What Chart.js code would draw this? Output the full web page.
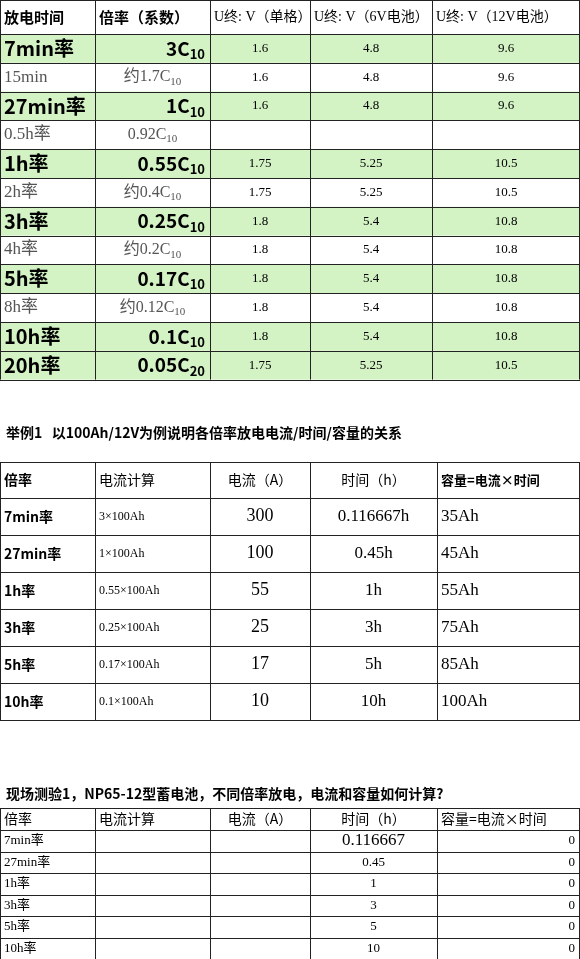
<!DOCTYPE html>
<html lang="zh">
<head>
<meta charset="UTF-8">
<title>倍率放电</title>
<style>
  body { margin: 0; background: #fff; }
  canvas { display: block; }
</style>
</head>
<body>
<canvas id="sheet" width="580" height="959"></canvas>
<script src="https://cdn.jsdelivr.net/npm/chart.js"></script>
<script>
// ---- table 1 data ("_" marks a subscript) ----
const rates1 = ['7min率','15min','27min率','0.5h率','1h率','2h率','3h率','4h率','5h率','8h率','10h率','20h率'];
const multipliers1 = ['3C_10','约1.7C_10','1C_10','0.92C_10','0.55C_10','约0.4C_10','0.25C_10','约0.2C_10','0.17C_10','约0.12C_10','0.1C_10','0.05C_20'];
const uCell = ['1.6','1.6','1.6','','1.75','1.75','1.8','1.8','1.8','1.8','1.8','1.75'];
const u6V = ['4.8','4.8','4.8','','5.25','5.25','5.4','5.4','5.4','5.4','5.4','5.25'];
const u12V = ['9.6','9.6','9.6','','10.5','10.5','10.8','10.8','10.8','10.8','10.8','10.5'];
const highlighted1 = [true,false,true,false,true,false,true,false,true,false,true,true];

// ---- table 2 data ----
const rates2 = ['7min率','27min率','1h率','3h率','5h率','10h率'];
const calc2 = ['3×100Ah','1×100Ah','0.55×100Ah','0.25×100Ah','0.17×100Ah','0.1×100Ah'];
const current2 = ['300','100','55','25','17','10'];
const time2 = ['0.116667h','0.45h','1h','3h','5h','10h'];
const capacity2 = ['35Ah','45Ah','55Ah','75Ah','85Ah','100Ah'];

// ---- table 3 data ----
const rates3 = ['7min率','27min率','1h率','3h率','5h率','10h率'];
const time3 = ['0.116667','0.45','1','3','5','10'];
const capacity3 = ['0','0','0','0','0','0'];

const SANS = '"Noto Sans CJK SC", "Noto Sans", sans-serif';
const SERIF = '"Liberation Serif", "Noto Sans CJK SC", serif';

function richText(ctx, str, x, y, align, size, weight, family) {
  const parts = str.split('_');
  const main = `${weight} ${size}px ${family}`;
  const sub = `${weight} ${Math.round(size * 0.7)}px ${family}`;
  ctx.font = main; const w1 = ctx.measureText(parts[0]).width;
  let w2 = 0;
  if (parts[1]) { ctx.font = sub; w2 = ctx.measureText(parts[1]).width; }
  let sx = align === 'center' ? x - (w1 + w2) / 2 : align === 'right' ? x - w1 - w2 : x;
  ctx.textAlign = 'left'; ctx.textBaseline = 'middle';
  ctx.font = main; ctx.fillText(parts[0], sx, y);
  if (parts[1]) { ctx.font = sub; ctx.fillText(parts[1], sx + w1, y + size * 0.3); }
}

const tables = [
  {
    top: 0, header: 34, rowH: 28.8, cols: [0, 95, 210, 310, 432, 580],
    head: [['放电时间', 'left', 15, 'bold', SANS], ['倍率（系数）', 'left', 15, 'bold', SANS],
           ['U终: V（单格）', 'left', 14, 'normal', SERIF], ['U终: V（6V电池）', 'left', 14, 'normal', SERIF],
           ['U终: V（12V电池）', 'left', 14, 'normal', SERIF]],
    rows: rates1.map((r, i) => {
      const g = highlighted1[i];
      return {
        fill: g ? '#d3f3c4' : null,
        cells: [
          [r, 'left', g ? 20 : 17, g ? 'bold' : 'normal', g ? SANS : SERIF, g ? '#000' : '#555'],
          [multipliers1[i], g ? 'right' : 'center', g ? 19 : 16, g ? 'bold' : 'normal', g ? SANS : SERIF, g ? '#000' : '#555'],
          [uCell[i], 'center', 13, 'normal', SERIF], [u6V[i], 'center', 13, 'normal', SERIF],
          [u12V[i], 'center', 13, 'normal', SERIF]]
      };
    })
  },
  {
    top: 462, header: 36, rowH: 37, cols: [0, 95, 210, 310, 437, 580],
    head: [['倍率', 'left', 14, 'bold', SANS], ['电流计算', 'left', 14, 'normal', SANS],
           ['电流（A）', 'center', 14, 'normal', SANS], ['时间（h）', 'center', 14, 'normal', SANS],
           ['容量=电流×时间', 'left', 13, 'bold', SANS]],
    rows: rates2.map((r, i) => ({
      cells: [[r, 'left', 14, 'bold', SANS], [calc2[i], 'left', 12, 'normal', SERIF],
              [current2[i], 'center', 18, 'normal', SERIF], [time2[i], 'center', 17, 'normal', SERIF],
              [capacity2[i], 'left', 17, 'normal', SERIF]]
    }))
  },
  {
    top: 808, header: 22, rowH: 21.5, cols: [0, 95, 210, 310, 437, 580],
    head: [['倍率', 'left', 14, 'normal', SANS], ['电流计算', 'left', 14, 'normal', SANS],
           ['电流（A）', 'center', 14, 'normal', SANS], ['时间（h）', 'center', 14, 'normal', SANS],
           ['容量=电流×时间', 'left', 14, 'normal', SANS]],
    rows: rates3.map((r, i) => ({
      cells: [[r, 'left', 13, 'normal', SERIF], ['', 'left', 13, 'normal', SERIF],
              ['', 'center', 13, 'normal', SERIF],
              [time3[i], 'center', i === 0 ? 17 : 13, 'normal', SERIF],
              [capacity3[i], 'right', 13, 'normal', SERIF]]
    }))
  }
];

const titles = [
  ['举例1   以100Ah/12V为例说明各倍率放电电流/时间/容量的关系', 433],
  ['现场测验1，NP65-12型蓄电池，不同倍率放电，电流和容量如何计算?', 794]
];

const sheetPlugin = {
  id: 'sheet',
  afterDraw(chart) {
    const { ctx, scales: { x, y } } = chart;
    const px = v => x.getPixelForValue(v), py = v => y.getPixelForValue(v);
    ctx.save();
    tables.forEach(t => {
      const n = t.rows.length;
      const bottom = t.top + t.header + n * t.rowH;
      const rowTop = i => t.top + t.header + i * t.rowH;
      t.rows.forEach((row, i) => {
        if (row.fill) { ctx.fillStyle = row.fill; ctx.fillRect(px(0), py(rowTop(i)), px(580) - px(0), py(rowTop(i + 1)) - py(rowTop(i))); }
      });
      const drawCells = (cells, y0, y1) => cells.forEach((c, j) => {
        const [txt, al, size, weight, fam, color] = c;
        if (!txt) return;
        const l = t.cols[j], r = t.cols[j + 1];
        const xx = al === 'left' ? l + 4 : al === 'right' ? r - 5 : (l + r) / 2;
        ctx.fillStyle = color || '#000';
        richText(ctx, txt, px(xx), py((y0 + y1) / 2), al, size, weight, fam);
      });
      drawCells(t.head, t.top, t.top + t.header);
      t.rows.forEach((row, i) => drawCells(row.cells, rowTop(i), rowTop(i + 1)));
      ctx.strokeStyle = '#222'; ctx.lineWidth = 1;
      ctx.beginPath();
      for (let i = 0; i <= n; i++) {
        const yy = Math.round(py(i === 0 ? t.top : rowTop(i))) + 0.5;
        ctx.moveTo(px(0), yy); ctx.lineTo(px(580), yy);
        if (i === 0) { const h = Math.round(py(rowTop(0))) + 0.5; ctx.moveTo(px(0), h); ctx.lineTo(px(580), h); }
      }
      t.cols.forEach(c => {
        const xx = Math.min(Math.round(px(c)) + 0.5, px(580) - 0.5);
        ctx.moveTo(xx, py(t.top)); ctx.lineTo(xx, py(bottom));
      });
      ctx.stroke();
    });
    ctx.fillStyle = '#000';
    titles.forEach(([txt, yy]) => {
      ctx.font = `bold 14px ${SANS}`; ctx.textAlign = 'left'; ctx.textBaseline = 'middle';
      ctx.fillText(txt, px(6), py(yy));
    });
    ctx.restore();
  }
};

new Chart(document.getElementById('sheet').getContext('2d'), {
  type: 'scatter',
  data: { datasets: [{ data: [] }] },
  options: {
    responsive: false, animation: false, devicePixelRatio: 1,
    layout: { padding: 0 },
    plugins: { legend: { display: false }, tooltip: { enabled: false } },
    scales: {
      x: { type: 'linear', min: 0, max: 580, display: false },
      y: { type: 'linear', min: 0, max: 959, reverse: true, display: false }
    }
  },
  plugins: [sheetPlugin]
});
</script>
</body>
</html>
